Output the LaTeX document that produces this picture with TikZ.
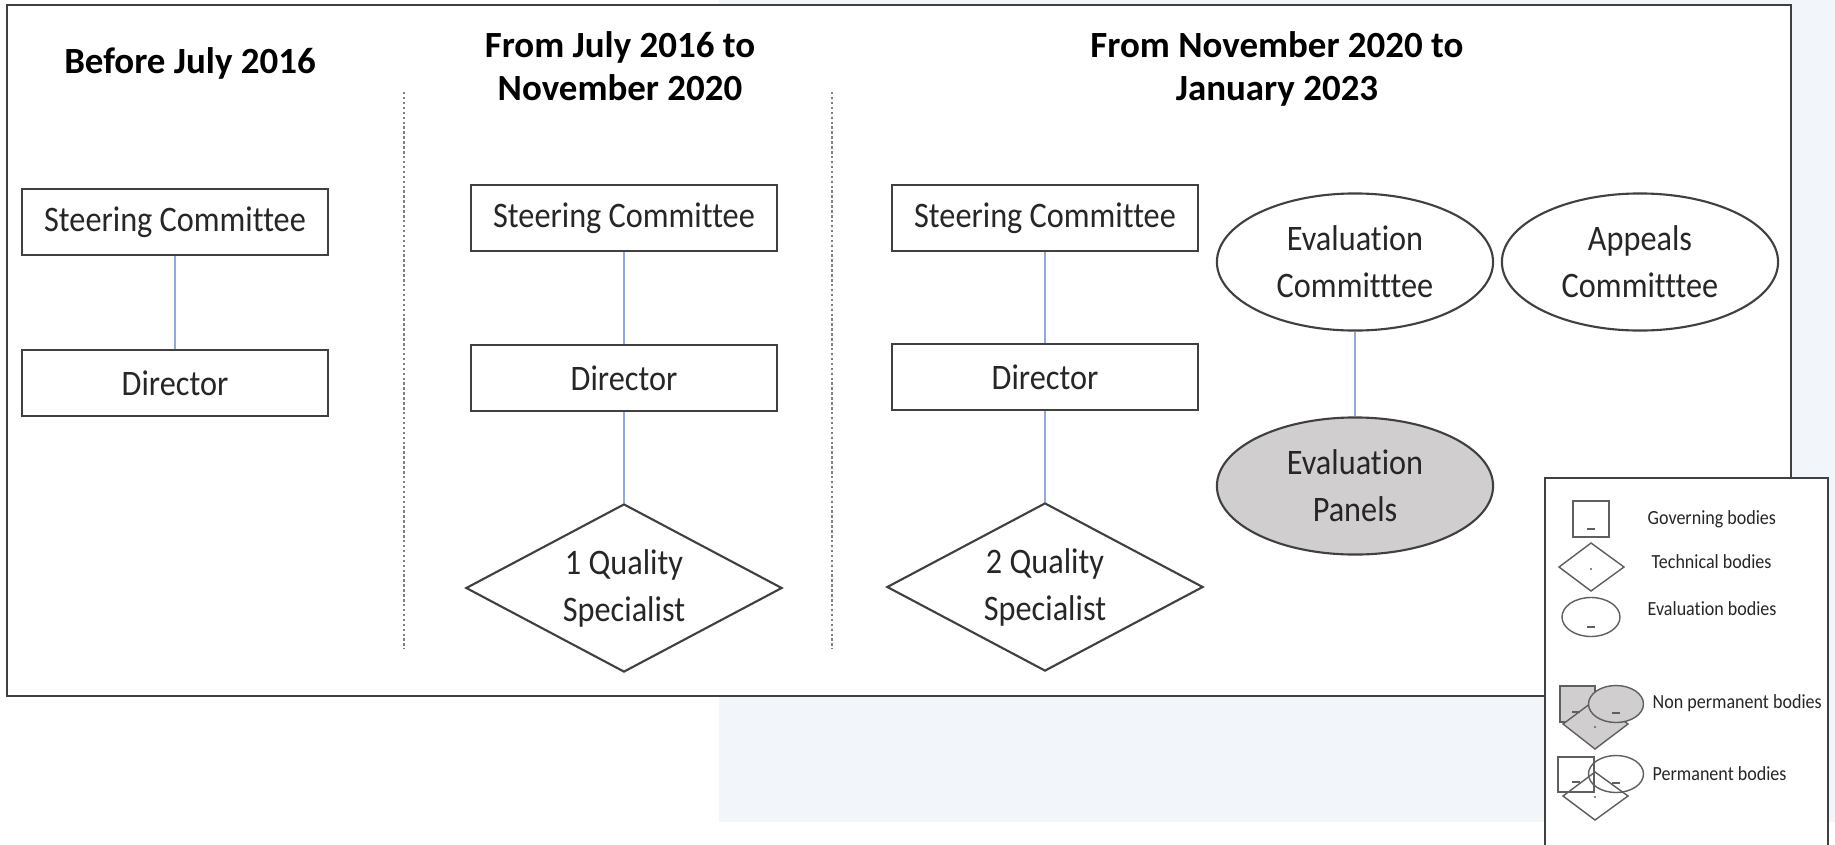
\documentclass[tikz,border=0pt]{standalone}
\usepackage{fontspec}
\setmainfont[Ligatures=NoCommon]{Carlito}
\newfontfamily\boxfamily[FakeStretch=0.9, Ligatures=NoCommon]{Carlito}
\usetikzlibrary{shapes.geometric}

\definecolor{paleblue}{RGB}{242,245,250}
\definecolor{linkblue}{RGB}{143,170,220}
\definecolor{panelgrey}{RGB}{208,206,206}
\definecolor{edgegrey}{RGB}{64,64,64}
\definecolor{textgrey}{RGB}{38,38,38}
\definecolor{keygrey}{RGB}{95,95,95}

\newcommand\periodfont{\fontsize{10.5}{12.2}\selectfont\bfseries}
\newcommand\boxfont{\boxfamily\fontsize{10.2}{13.4}\selectfont}
\newcommand\keyfont{\boxfamily\fontsize{5.7}{7}\selectfont}

\tikzset{
  period/.style={font=\periodfont, align=center, anchor=base, inner sep=0pt},
  govbox/.style={draw=edgegrey, line width=0.6pt, fill=white, text=textgrey, minimum width=3.05cm, minimum height=0.66cm, inner sep=0pt, font=\boxfont},
  techbody/.style={diamond, draw=edgegrey, line width=0.6pt, shape aspect=1.9, text=textgrey, minimum width=3.16cm, minimum height=1.68cm, inner sep=0pt, align=center, font=\boxfont},
  evalbody/.style={ellipse, draw=edgegrey, line width=0.6pt, text=textgrey, minimum width=2.76cm, minimum height=1.37cm, inner sep=0pt, align=center, font=\boxfont},
  link/.style={draw=linkblue, line width=0.6pt},
  divider/.style={draw=gray, line width=0.8pt, dash pattern=on 0.7pt off 0.7pt},
  keyline/.style={draw=keygrey, line width=0.4pt},
  keytext/.style={anchor=west, inner sep=0pt, text=textgrey, font=\keyfont},
}

\begin{document}
\begin{tikzpicture}[x=0.01cm, y=-0.01cm]
  \useasboundingbox (0,0) rectangle (1835,845);
  \fill[paleblue] (719,0) rectangle (1835,822);
  \draw[edgegrey, line width=0.6pt, fill=white] (7,5) rectangle (1791,696);

  \node[period] (t1) at (190,73) {Before July 2016};
  \node[period] (t2) at (620,100) {From July 2016 to\\November 2020};
  \node[period] (t3) at (1277,100) {From November 2020 to\\January 2023};

  \draw[divider] (404,92) -- (404,649);
  \draw[divider] (832,92) -- (832,649);

  \node[govbox] (sc1) at (175,222) {Steering Committee};
  \node[govbox] (dir1) at (175,383) {Director};
  \draw[link] (sc1) -- (dir1);

  \node[govbox] (sc2) at (624,218) {Steering Committee};
  \node[govbox] (dir2) at (624,378) {Director};
  \node[techbody] (qs1) at (624,588) {1 Quality\\Specialist};
  \draw[link] (sc2) -- (dir2);
  \draw[link] (dir2) -- (qs1);

  \node[govbox] (sc3) at (1045,218) {Steering Committee};
  \node[govbox] (dir3) at (1045,377) {Director};
  \node[techbody] (qs2) at (1045,587) {2 Quality\\Specialist};
  \draw[link] (sc3) -- (dir3);
  \draw[link] (dir3) -- (qs2);

  \node[evalbody] (ec) at (1355,262) {Evaluation\\Committtee};
  \node[evalbody] (ac) at (1640,262) {Appeals\\Committtee};
  \node[evalbody, fill=panelgrey] (ep) at (1355,486) {Evaluation\\Panels};
  \draw[link] (ec) -- (ep);

  \filldraw[fill=white, draw=edgegrey, line width=0.6pt] (1545,845) -- (1545,478) -- (1828,478) -- (1828,845);

  \draw[keyline] (1573,501) rectangle (1609,537);
  \draw[keyline] (1587,529) -- (1595,529);
  \draw[keyline] (1559,567) -- (1591,543) -- (1624,567) -- (1591,591) -- cycle;
  \fill[keygrey] (1591,569) circle [radius=1.2];
  \draw[keyline] (1591,617) ellipse [x radius=29, y radius=19.5];
  \draw[keyline] (1587,627) -- (1595,627);

  \filldraw[keyline, fill=panelgrey] (1560,686) rectangle (1595,722);
  \filldraw[keyline, fill=panelgrey] (1563,724) -- (1595,700) -- (1628,724) -- (1595,749) -- cycle;
  \filldraw[keyline, fill=panelgrey] (1616,704) ellipse [x radius=27.5, y radius=18.5];
  \draw[keyline] (1572,712) -- (1580,712);
  \draw[keyline] (1612,713) -- (1620,713);
  \fill[keygrey] (1595,727) circle [radius=1.2];

  \draw[keyline] (1558,757) rectangle (1594,792);
  \draw[keyline] (1563,796) -- (1595,772) -- (1628,796) -- (1595,820) -- cycle;
  \draw[keyline] (1616,774) ellipse [x radius=27.5, y radius=18.5];
  \draw[keyline] (1572,782) -- (1580,782);
  \draw[keyline] (1612,783) -- (1620,783);
  \fill[keygrey] (1595,797) circle [radius=1.2];

  \node[keytext] (k1) at (1647,519) {Governing bodies};
  \node[keytext] (k2) at (1651,562) {Technical bodies};
  \node[keytext] (k3) at (1647,609) {Evaluation bodies};
  \node[keytext] (k4) at (1652,703) {Non permanent bodies};
  \node[keytext] (k5) at (1652,774) {Permanent bodies};
\end{tikzpicture}
\end{document}
